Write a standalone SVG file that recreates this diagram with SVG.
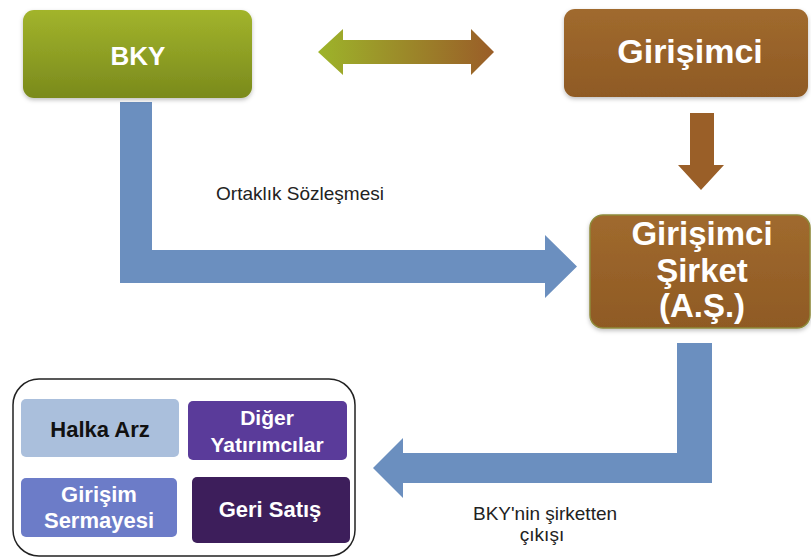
<svg xmlns="http://www.w3.org/2000/svg" width="811" height="558" viewBox="0 0 811 558">
  <defs>
    <linearGradient id="gGreen" x1="0" y1="0" x2="0" y2="1">
      <stop offset="0" stop-color="#a2b42c"/>
      <stop offset="1" stop-color="#7a8a1c"/>
    </linearGradient>
    <linearGradient id="gBrown" x1="0" y1="0" x2="0" y2="1">
      <stop offset="0" stop-color="#a06a2e"/>
      <stop offset="1" stop-color="#8f5a24"/>
    </linearGradient>
    <linearGradient id="gDouble" x1="0" y1="0" x2="1" y2="0">
      <stop offset="0" stop-color="#9db42a"/>
      <stop offset="1" stop-color="#9a5d28"/>
    </linearGradient>
    <filter id="shadow" x="-10%" y="-10%" width="120%" height="130%">
      <feDropShadow dx="0" dy="2" stdDeviation="2" flood-color="#000" flood-opacity="0.25"/>
    </filter>
    <style>
      .lbl { font-family: "Liberation Sans", Arial, sans-serif; font-weight: bold; fill: #fff; text-anchor: middle; }
      .dark { fill: #111; }
      .note { font-family: "Liberation Sans", Arial, sans-serif; font-size: 19px; fill: #222; text-anchor: middle; }
      .blue { fill: #6b8fbf; }
    </style>
  </defs>
  <rect width="811" height="558" fill="#fff"/>

  <!-- connectors -->
  <g id="connectors">
    <polygon id="c-bky-girisimci" fill="url(#gDouble)" points="318,52 343,29 343,40 471,40 471,29 494,52 471,75 471,64 343,64 343,75"/>
    <polygon id="c-girisimci-sirket" fill="#9a5f28" points="690,113 714,113 714,165 724,165 701,190 678,165 690,165"/>
    <polygon id="c-bky-sirket" class="blue" points="120,102 152,102 152,250 545,250 545,235 577,266.5 545,298 545,283 120,283"/>
    <polygon id="c-exit" class="blue" points="677,343 712,343 712,483 403,483 403,498 373,468 403,438 403,453 677,453"/>
    <text class="note" x="300" y="200">Ortaklık Sözleşmesi</text>
    <text class="note" x="545" y="520">BKY'nin şirketten</text>
    <text class="note" x="542" y="541">çıkışı</text>
  </g>

  <!-- top row -->
  <g id="bky">
    <rect x="23" y="10" width="229" height="88" rx="11" fill="url(#gGreen)" filter="url(#shadow)"/>
    <text class="lbl" x="138" y="65" font-size="26">BKY</text>
  </g>
  <g id="girisimci">
    <rect x="564" y="9" width="244" height="88" rx="11" fill="url(#gBrown)" filter="url(#shadow)"/>
    <text class="lbl" x="690" y="63" font-size="34">Girişimci</text>
  </g>
  <g id="girisimci-sirket">
    <rect x="590" y="215" width="220" height="113" rx="13" fill="url(#gBrown)" stroke="#8e8a3a" stroke-width="1.5" filter="url(#shadow)"/>
    <text class="lbl" x="702" y="245" font-size="33">Girişimci</text>
    <text class="lbl" x="702" y="282" font-size="33">Şirket</text>
    <text class="lbl" x="702" y="317" font-size="33">(A.Ş.)</text>
  </g>

  <!-- exit options -->
  <g id="exit-options">
    <rect x="13" y="379" width="342" height="177" rx="26" fill="#fff" stroke="#222" stroke-width="1.5"/>
    <g id="halka-arz">
      <rect x="21" y="399" width="158" height="58" rx="5" fill="#aabfdc"/>
      <text class="lbl dark" x="100" y="437" font-size="22">Halka Arz</text>
    </g>
    <g id="diger-yatirimcilar">
      <rect x="188" y="401" width="159" height="59" rx="5" fill="#5a3b9a"/>
      <text class="lbl" x="267" y="425" font-size="21">Diğer</text>
      <text class="lbl" x="267" y="452" font-size="21">Yatırımcılar</text>
    </g>
    <g id="girisim-sermayesi">
      <rect x="21" y="478" width="156" height="59" rx="5" fill="#6c7cc8"/>
      <text class="lbl" x="99" y="502" font-size="22">Girişim</text>
      <text class="lbl" x="99" y="528" font-size="22">Sermayesi</text>
    </g>
    <g id="geri-satis">
      <rect x="192" y="477" width="158" height="66" rx="5" fill="#3d1e5b"/>
      <text class="lbl" x="270" y="517" font-size="22">Geri Satış</text>
    </g>
  </g>
</svg>
